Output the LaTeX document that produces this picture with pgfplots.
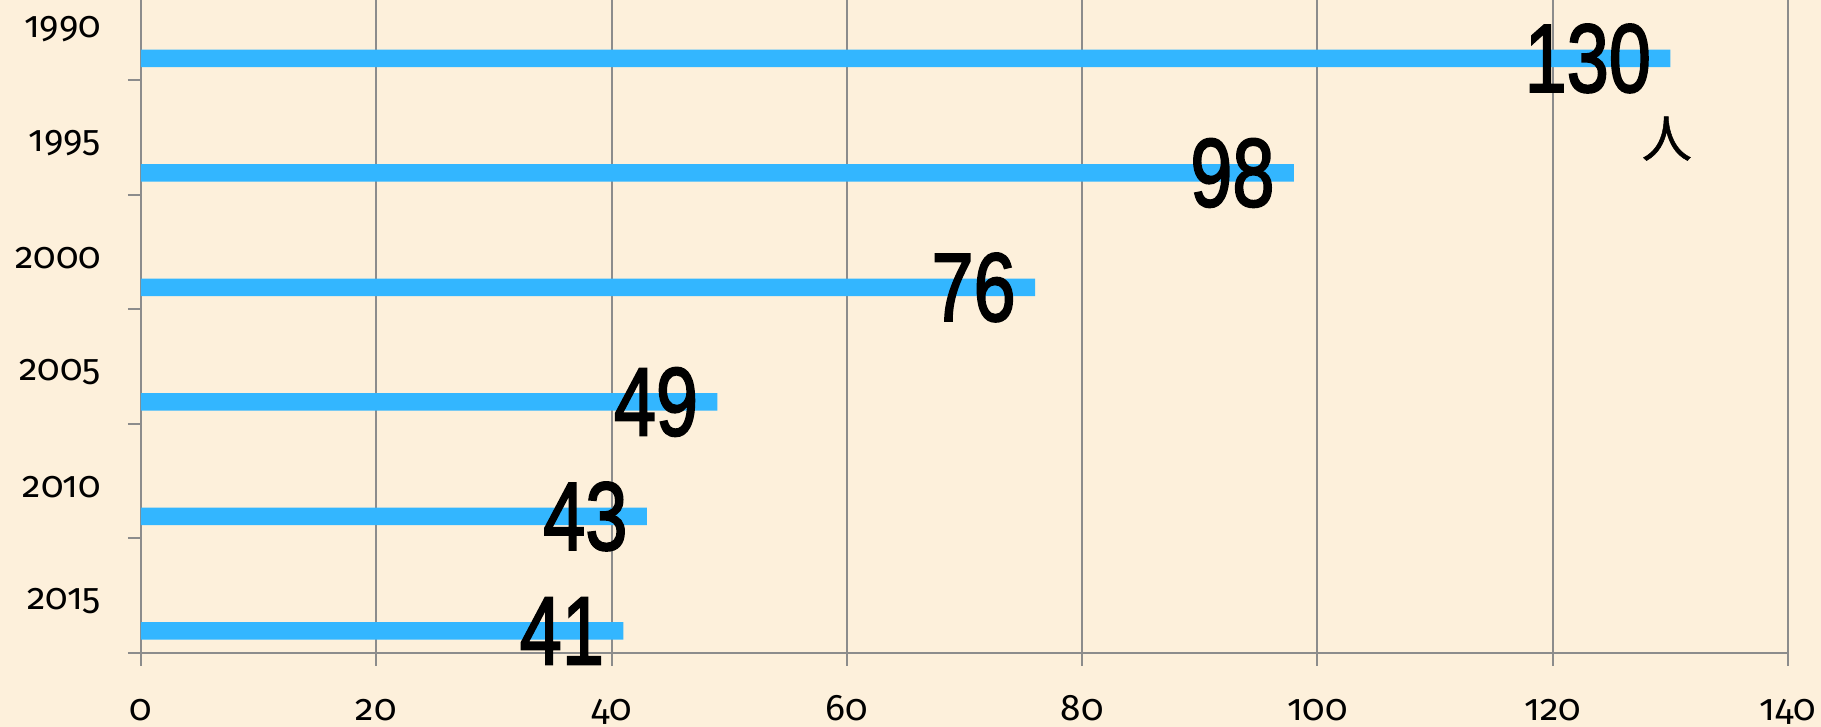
\documentclass[border=0pt]{standalone}
\usepackage{pgfplots}
\pgfplotsset{compat=1.18}
\usepackage{graphicx}
\usepackage{fontspec}
\setmainfont{Fira Sans}[Numbers=OldStyle]
\newfontfamily\numfont{Liberation Sans}[FakeBold=2.2]
\newfontfamily\cjk{Noto Sans CJK JP}[FakeBold=1]

\definecolor{bgcream}{RGB}{253,240,219}
\definecolor{barblue}{RGB}{51,182,255}
\definecolor{axisgray}{RGB}{140,140,140}

\begin{document}
\begin{tikzpicture}
\fill[bgcream] (-70.5pt,-37.15pt) rectangle (840pt,326.35pt);
\begin{axis}[
  x=5.882pt, y=57.25pt,
  xmin=0, xmax=140, ymin=0, ymax=5.70,
  axis lines=left,
  axis line style={axisgray, line width=1pt, -},
  clip=false,
  tick align=outside,
  xtick={0,20,...,140},
  xmajorgrids,
  x grid style={axisgray, line width=1pt},
  major tick length=6.5pt,
  tick style={axisgray, line width=1pt},
  ytick={0,1,2,3,4,5},
  yticklabels={2015,2010,2005,2000,1995,1990},
  ticklabel style={font=\fontsize{18.5}{20}\selectfont, text=black},
  /pgf/number format/assume math mode=true,
  yticklabel style={anchor=east, yshift=25.6pt, xshift=-10pt},
  xticklabel style={anchor=base, yshift=-27.5pt},
]
\addplot[xbar, bar width=8.75pt, fill=barblue, draw=none,
  point meta=x,
  nodes near coords={\scalebox{0.78}[1]{\pgfmathprintnumber\pgfplotspointmeta}},
  nodes near coords style={anchor=east, xshift=-9.5pt, text=black,
    font=\numfont\fontsize{48.5}{50}\selectfont, inner sep=0pt}]
coordinates {
(130,5.19)
(98,4.19)
(76,3.19)
(49,2.19)
(43,1.19)
(41,0.19)
};
\node[font=\cjk\fontsize{25}{26}\selectfont, inner sep=0pt] at (axis cs:129.7,4.49) {人};
\end{axis}
\pgfresetboundingbox
\useasboundingbox (-70.5pt,-37.15pt) rectangle (840pt,326.35pt);
\end{tikzpicture}
\end{document}
